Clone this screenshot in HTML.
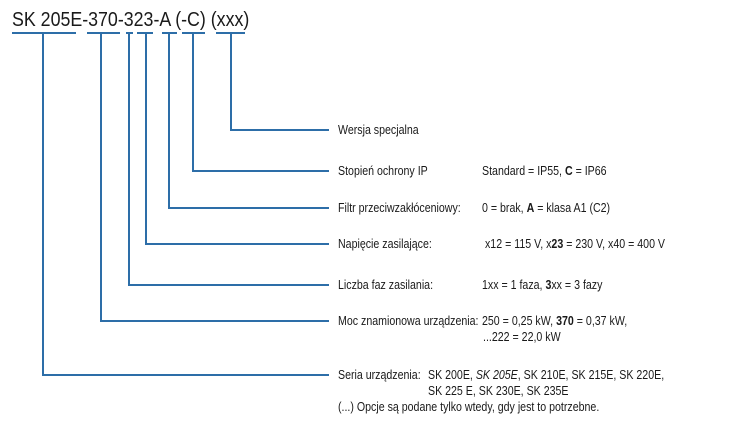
<!DOCTYPE html>
<html><head><meta charset="utf-8"><style>
html,body{margin:0;padding:0;background:#fff;width:736px;height:425px;overflow:hidden}
svg text{font-family:"Liberation Sans",sans-serif;fill:#1a1a1a}
</style></head><body>
<svg width="736" height="425" viewBox="0 0 736 425" xmlns="http://www.w3.org/2000/svg">
<g transform="translate(12,26) scale(0.89,1)"><text font-size="20" x="0" y="0">SK 205E-370-323-A (-C) (xxx)</text></g>
<g stroke="#2d6ea8" stroke-width="2" fill="none">
<line x1="12" y1="33" x2="76" y2="33"/>
<line x1="87" y1="33" x2="120" y2="33"/>
<line x1="126" y1="33" x2="133" y2="33"/>
<line x1="137" y1="33" x2="153" y2="33"/>
<line x1="162" y1="33" x2="177" y2="33"/>
<line x1="182" y1="33" x2="205" y2="33"/>
<line x1="216" y1="33" x2="245" y2="33"/>
<polyline points="231,33 231,130 329,130"/>
<polyline points="193,33 193,171 329,171"/>
<polyline points="169,33 169,208 329,208"/>
<polyline points="146,33 146,244 329,244"/>
<polyline points="129,33 129,285 329,285"/>
<polyline points="101,33 101,321 329,321"/>
<polyline points="43,33 43,375 329,375"/>
</g>
<g font-size="12.5">
<g transform="translate(338,134) scale(0.85,1)"><text>Wersja specjalna</text></g>
<g transform="translate(338,175) scale(0.85,1)"><text>Stopień ochrony IP</text></g>
<g transform="translate(482,175) scale(0.85,1)"><text>Standard = IP55, <tspan font-weight="bold">C</tspan> = IP66</text></g>
<g transform="translate(338,212) scale(0.85,1)"><text>Filtr przeciwzakłóceniowy:</text></g>
<g transform="translate(482,212) scale(0.85,1)"><text>0 = brak, <tspan font-weight="bold">A</tspan> = klasa A1 (C2)</text></g>
<g transform="translate(338,248) scale(0.85,1)"><text>Napięcie zasilające:</text></g>
<g transform="translate(485,248) scale(0.85,1)"><text>x12 = 115 V, x<tspan font-weight="bold">23</tspan> = 230 V, x40 = 400 V</text></g>
<g transform="translate(338,289) scale(0.85,1)"><text>Liczba faz zasilania:</text></g>
<g transform="translate(482,289) scale(0.85,1)"><text>1xx = 1 faza, <tspan font-weight="bold">3</tspan>xx = 3 fazy</text></g>
<g transform="translate(338,325) scale(0.85,1)"><text>Moc znamionowa urządzenia:</text></g>
<g transform="translate(482,325) scale(0.85,1)"><text>250 = 0,25 kW, <tspan font-weight="bold">370</tspan> = 0,37 kW,</text></g>
<g transform="translate(483,341) scale(0.85,1)"><text>...222 = 22,0 kW</text></g>
<g transform="translate(338,379) scale(0.85,1)"><text>Seria urządzenia:</text></g>
<g transform="translate(428,379) scale(0.85,1)"><text>SK 200E, <tspan font-style="italic">SK 205E</tspan>, SK 210E, SK 215E, SK 220E,</text></g>
<g transform="translate(428,395) scale(0.85,1)"><text>SK 225 E, SK 230E, SK 235E</text></g>
<g transform="translate(338,411) scale(0.85,1)"><text>(...) Opcje są podane tylko wtedy, gdy jest to potrzebne.</text></g>
</g>
</svg>
</body></html>
